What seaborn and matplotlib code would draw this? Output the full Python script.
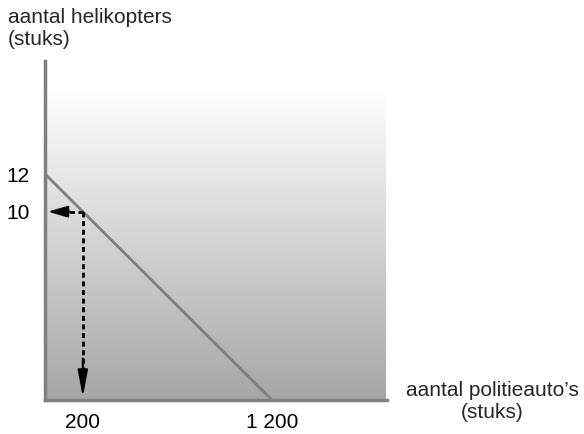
import numpy as np
import pandas as pd
import matplotlib.pyplot as plt
import seaborn as sns

# data
x_vals = [0, 1200]
y_vals = [12, 0]
point_x = 200
point_y = 10
x_ticks = [200, 1200]
x_ticklabels = ["200", "1 200"]
y_ticks = [10, 12]
y_ticklabels = ["10", "12"]

sns.set_style("white")
plt.rcParams['font.family'] = ['Liberation Sans', 'DejaVu Sans']

fig = plt.figure(figsize=(5.84, 4.34), dpi=100)
ax = fig.add_axes([45 / 584, 34 / 434, 342 / 584, 339 / 434])

xmax = 1808
ymax = 18.0
ax.set_xlim(0, xmax)
ax.set_ylim(0, ymax)

# gradient background
grad = np.linspace(0, 1, 256).reshape(-1, 1)
cmap = plt.matplotlib.colors.LinearSegmentedColormap.from_list("g", ["#a6a6a6", "#ffffff"])
ax.imshow(grad, extent=[0, 1800, 0, 16.5], origin="lower", aspect="auto", cmap=cmap, zorder=0)

df = pd.DataFrame({"x": x_vals, "y": y_vals})
sns.lineplot(data=df, x="x", y="y", color="#7f7f7f", linewidth=2, ax=ax, zorder=2)

# dashed guide lines
ax.plot([point_x, 60], [point_y, point_y], color="black", lw=2, ls=(0, (1.8, 1.3)), zorder=3)
ax.plot([point_x, point_x], [point_y, 0.9], color="black", lw=2, ls=(0, (1.8, 1.3)), zorder=3)
ax.annotate("", xy=(15, point_y), xytext=(130, point_y),
            arrowprops=dict(arrowstyle="-|>,head_length=1.2,head_width=0.35", color="black", lw=1.5, shrinkA=0, shrinkB=0), zorder=4)
ax.annotate("", xy=(point_x, 0.15), xytext=(point_x, 2.2),
            arrowprops=dict(arrowstyle="-|>,head_length=1.6,head_width=0.3", color="black", lw=1.5, shrinkA=0, shrinkB=0), zorder=4)

for s in ["top", "right"]:
    ax.spines[s].set_visible(False)
for s in ["left", "bottom"]:
    ax.spines[s].set_color("#808080")
    ax.spines[s].set_linewidth(2.5)

ax.set_xticks(x_ticks)
ax.set_xticklabels(x_ticklabels)
ax.set_yticks(y_ticks)
ax.set_yticklabels(y_ticklabels)
ax.tick_params(length=0, labelsize=15, colors="black")
ax.tick_params(axis="x", pad=9)
ax.tick_params(axis="y", pad=11)
ax.set_xlabel("")
ax.set_ylabel("")

fig.text(8 / 584, 1 - 8 / 434, "aantal helikopters\n(stuks)", ha="left", va="top", fontsize=15, linespacing=1.2)
fig.text(492 / 584, 1 - 381 / 434, "aantal politieauto\u2019s\n(stuks)", ha="center", va="top", fontsize=15, linespacing=1.2)

fig.savefig("out.png", dpi=100)
